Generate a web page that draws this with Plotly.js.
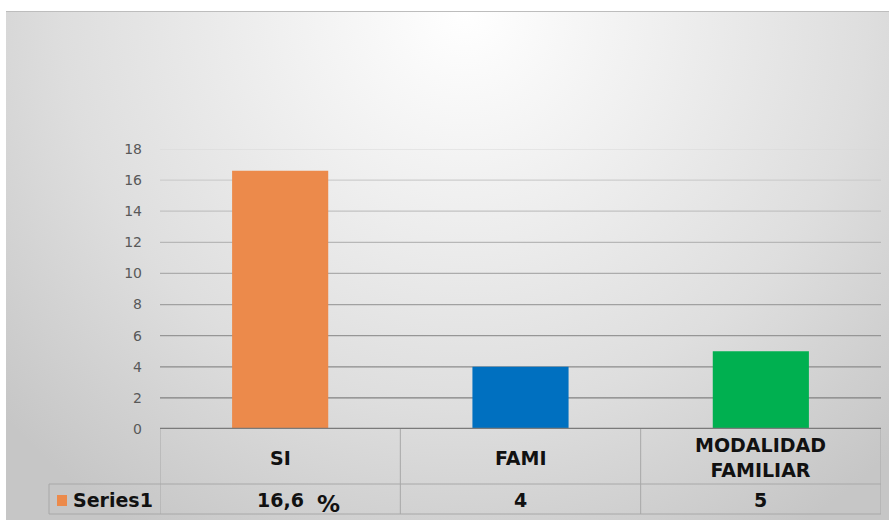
<!DOCTYPE html>
<html>
<head>
<meta charset="utf-8">
<script src="https://cdn.plot.ly/plotly-3.0.1.min.js"></script>
<style>
  html, body { margin: 0; padding: 0; background: #ffffff; }
  #wrap { position: relative; width: 889px; height: 520px; overflow: hidden; }
  #bg { position: absolute; left: 6px; top: 11px; width: 883px; height: 509px;
        border-top: 1px solid #bdbdbd; box-sizing: border-box;
        background: radial-gradient(ellipse 70% 120% at 52% 0%, #ffffff 0%, #f0f0f0 30%, #dedede 65%, #c6c6c6 100%); }
  #chart { position: absolute; left: 0; top: 0; width: 889px; height: 520px; }
</style>
</head>
<body>
<div id="wrap"><div id="bg"></div><div id="chart"></div></div>
<script>
// ---- data ----
const categories = ["SI", "FAMI", "MODALIDAD FAMILIAR"];
const categoryLabels = ["SI", "FAMI", "MODALIDAD<br>FAMILIAR"];
const values = [16.6, 4, 5];
const tableLabels = ["16,6", "4", "5"];
const tableSuffix = ["%", "", ""];
const seriesName = "Series1";
const yTicks = [0, 2, 4, 6, 8, 10, 12, 14, 16, 18];
const barColors = ["#EC8A4B", "#0070C0", "#00B050"];

// ---- geometry helpers (pixel -> paper) ----
const L = 160, R = 881, T = 149, B = 429;
const px = p => (p - L) / (R - L);
const py = p => (B - p) / (B - T);

const trace = {
  type: "bar",
  x: categories,
  y: values,
  width: 0.4,
  marker: { color: barColors },
  hoverinfo: "none",
  showlegend: false
};

const shapes = [];
// gridlines (lighter at the top, darker towards the bottom)
yTicks.forEach((t, i) => {
  if (t === 0) return;
  const f = (t - 2) / 16;
  const c = Math.round(0x80 + f * (0xd8 - 0x80));
  const col = `rgb(${c},${c},${c})`;
  shapes.push({ type: "line", xref: "paper", yref: "y", x0: 0, x1: 1, y0: t, y1: t,
                line: { color: col, width: 1.2 }, layer: "below" });
});
const tableLine = { color: "#a8a8a8", width: 1 };
// data table verticals
[-0.5, 0.5, 1.5, 2.5].forEach(xv => {
  shapes.push({ type: "line", xref: "x", yref: "paper", x0: xv, x1: xv, y0: 0, y1: py(514), line: tableLine });
});
// table horizontals
shapes.push({ type: "line", xref: "paper", yref: "paper", x0: px(49), x1: 1, y0: py(484), y1: py(484), line: tableLine });
shapes.push({ type: "line", xref: "paper", yref: "paper", x0: px(49), x1: 1, y0: py(514), y1: py(514), line: tableLine });
shapes.push({ type: "line", xref: "paper", yref: "paper", x0: px(49), x1: px(49), y0: py(484), y1: py(514), line: tableLine });
// axis line at zero
shapes.push({ type: "line", xref: "paper", yref: "y", x0: 0, x1: 1, y0: 0, y1: 0, line: { color: "#7a7a7a", width: 2.5 } });
// legend key
shapes.push({ type: "rect", xref: "paper", yref: "paper", x0: px(57), x1: px(67), y0: py(506), y1: py(495),
              fillcolor: barColors[0], line: { width: 0 } });

const tableFont = { family: "DejaVu Sans, Liberation Sans, Arial", size: 19, color: "#111111" };
const annotations = [];
categories.forEach((c, i) => {
  annotations.push({ xref: "x", yref: "paper", x: c, y: py(457.5), text: "<b>" + categoryLabels[i] + "</b>",
                     showarrow: false, xanchor: "center", yanchor: "middle", font: tableFont });
  annotations.push({ xref: "x", yref: "paper", x: c, y: py(500), text: "<b>" + tableLabels[i] + "</b>",
                     showarrow: false, xanchor: "center", yanchor: "middle", font: tableFont });
  if (tableSuffix[i]) {
    annotations.push({ xref: "x", yref: "paper", x: c, y: py(503.5), xshift: 35, text: "<b>" + tableSuffix[i] + "</b>",
                       showarrow: false, xanchor: "left", yanchor: "middle",
                       font: Object.assign({}, tableFont, { size: 23 }) });
  }
});
annotations.push({ xref: "paper", yref: "paper", x: px(71), y: py(500), text: "<b>" + seriesName + "</b>",
                   showarrow: false, xanchor: "left", yanchor: "middle", font: tableFont });

const layout = {
  width: 889, height: 520,
  margin: { l: L, r: 889 - R, t: T, b: 520 - B, pad: 0 },
  paper_bgcolor: "rgba(0,0,0,0)",
  plot_bgcolor: "rgba(0,0,0,0)",
  xaxis: { type: "category", range: [-0.5, 2.5], showticklabels: false, showgrid: false,
           zeroline: false, showline: false, fixedrange: true },
  yaxis: { range: [0, 18], tickvals: yTicks, ticktext: yTicks.map(String), showgrid: false,
           zeroline: false, showline: false, ticks: "", ticklabelstandoff: 17,
           tickfont: { family: "DejaVu Sans, Liberation Sans, Arial", size: 14, color: "#595959" }, fixedrange: true },
  shapes: shapes,
  annotations: annotations,
  showlegend: false
};

Plotly.newPlot("chart", [trace], layout, { displayModeBar: false, staticPlot: true });
</script>
</body>
</html>
